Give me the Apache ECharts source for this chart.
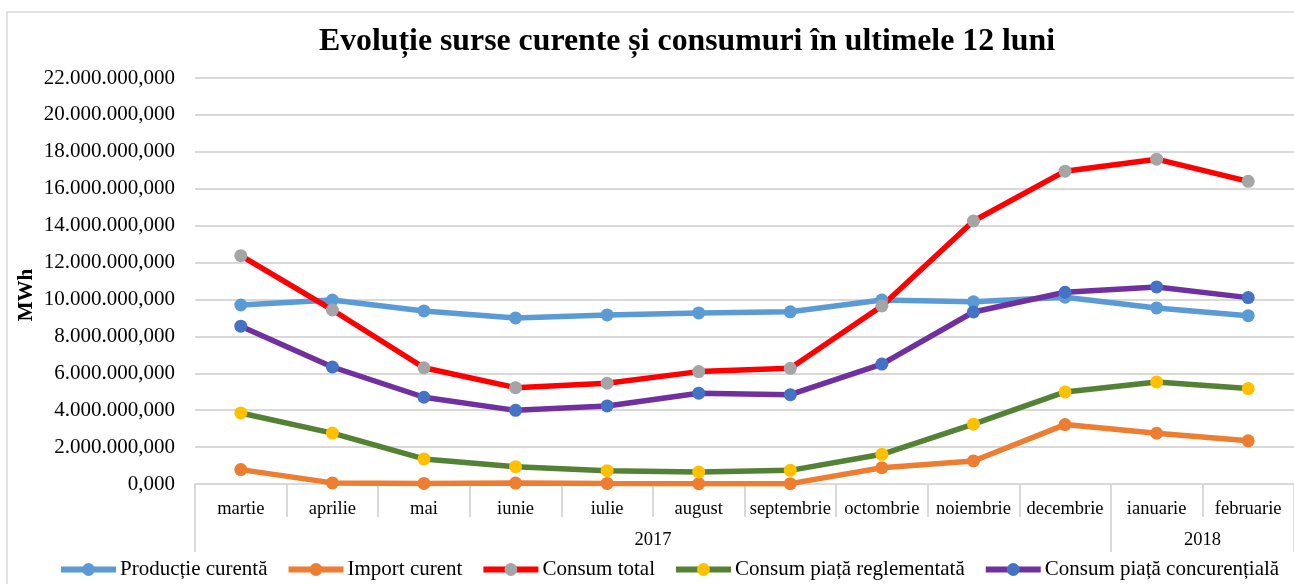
<!DOCTYPE html>
<html>
<head>
<meta charset="utf-8">
<script src="https://cdn.jsdelivr.net/npm/echarts@6/dist/echarts.min.js"></script>
<style>
html,body{margin:0;padding:0;background:#fff;}
#chart{width:1294px;height:584px;}
</style>
</head>
<body>
<div id="chart"></div>
<script>
// ---- data ----
const months = ['martie','aprilie','mai','iunie','iulie','august','septembrie','octombrie','noiembrie','decembrie','ianuarie','februarie'];
const years = ['2017', '2018'];
const yearMonthCounts = [10, 2];
const productieCurenta = [9700000, 9970000, 9380000, 9000000, 9160000, 9270000, 9330000, 9970000, 9870000, 10120000, 9540000, 9120000];
const importCurent = [780000, 60000, 30000, 50000, 30000, 20000, 20000, 880000, 1250000, 3220000, 2750000, 2340000];
const consumTotal = [12370000, 9430000, 6300000, 5220000, 5460000, 6090000, 6270000, 9650000, 14250000, 16950000, 17600000, 16400000];
const consumReglementata = [3850000, 2760000, 1360000, 940000, 720000, 650000, 740000, 1610000, 3240000, 4990000, 5530000, 5170000];
const consumConcurentiala = [8550000, 6340000, 4700000, 3990000, 4230000, 4920000, 4840000, 6500000, 9320000, 10390000, 10680000, 10100000];
const yTicks = {min: 0, max: 22000000, interval: 2000000};

// year group boundaries and centres
const yearBounds = [0];
const yearCentres = [];
yearMonthCounts.forEach((n, i) => { yearCentres.push(yearBounds[i] + n / 2); yearBounds.push(yearBounds[i] + n); });

function formatRo(v) {
  const s = Math.round(v).toString().replace(/\B(?=(\d{3})+(?!\d))/g, '.');
  return s + ',000';
}

const serif = '"Liberation Serif", "Times New Roman", serif';
const gridColor = '#d9d9d9';

function lineSeries(name, data, lineColor, markerColor) {
  return {
    name: name, type: 'line', data: data,
    symbol: 'circle', symbolSize: 13,
    lineStyle: {color: lineColor, width: 5.5},
    itemStyle: {color: markerColor},
    emphasis: {disabled: true},
    animation: false
  };
}

const chart = echarts.init(document.getElementById('chart'), null, {renderer: 'canvas'});
chart.setOption({
  backgroundColor: '#fff',
  animation: false,
  title: {
    text: 'Evoluție surse curente și consumuri în ultimele 12 luni',
    left: 682, top: 21, textAlign: 'center',
    textStyle: {fontFamily: serif, fontSize: 31.8, fontWeight: 'bold', color: '#000'}
  },
  graphic: [
    {type: 'rect', shape: {x: 7, y: 12, width: 1320, height: 620}, style: {fill: 'none', stroke: gridColor, lineWidth: 1.5}, silent: true, z: -1},
    {type: 'text', x: 27, y: 295, rotation: Math.PI / 2,
     style: {text: 'MWh', fontFamily: serif, fontSize: 21, fontWeight: 'bold', fill: '#000', align: 'center', verticalAlign: 'middle'}}
  ],
  legend: {
    left: 58, top: 559, padding: 0,
    itemWidth: 55, itemHeight: 16, itemGap: 18,
    lineStyle: {width: 6},
    textStyle: {fontFamily: serif, fontSize: 21, color: '#000', padding: [0, 0, 0, -1]},
    data: ['Producție curentă', 'Import curent', 'Consum total', 'Consum piață reglementată', 'Consum piață concurențială']
  },
  grid: {left: 195, top: 78, width: 1104, height: 406, containLabel: false},
  xAxis: [
    {
      type: 'category', data: months, boundaryGap: true,
      axisLine: {show: true, lineStyle: {color: gridColor, width: 2}},
      axisTick: {show: true, interval: 0, length: 33, lineStyle: {color: gridColor, width: 2}},
      axisLabel: {interval: 0, margin: 16, fontFamily: serif, fontSize: 18.5, color: '#000'},
      splitLine: {show: false}
    },
    {
      type: 'value', min: 0, max: months.length, position: 'bottom',
      axisLine: {show: false},
      axisTick: {show: true, customValues: yearBounds, length: 68, lineStyle: {color: gridColor, width: 2}},
      axisLabel: {customValues: yearCentres, margin: 47, fontFamily: serif, fontSize: 18.5, color: '#000',
        formatter: function (v) { const i = yearCentres.indexOf(v); return i >= 0 ? years[i] : ''; }},
      splitLine: {show: false}
    }
  ],
  yAxis: {
    type: 'value', min: yTicks.min, max: yTicks.max, interval: yTicks.interval,
    axisLine: {show: false}, axisTick: {show: false},
    axisLabel: {margin: 20, fontFamily: serif, fontSize: 21, color: '#000', formatter: formatRo},
    splitLine: {lineStyle: {color: gridColor, width: 2}}
  },
  series: [
    lineSeries('Producție curentă', productieCurenta, '#5B9BD5', '#5B9BD5'),
    lineSeries('Import curent', importCurent, '#ED7D31', '#ED7D31'),
    lineSeries('Consum total', consumTotal, '#FF0000', '#A5A5A5'),
    lineSeries('Consum piață reglementată', consumReglementata, '#548235', '#FFC000'),
    lineSeries('Consum piață concurențială', consumConcurentiala, '#7030A0', '#4472C4')
  ]
});
</script>
</body>
</html>
